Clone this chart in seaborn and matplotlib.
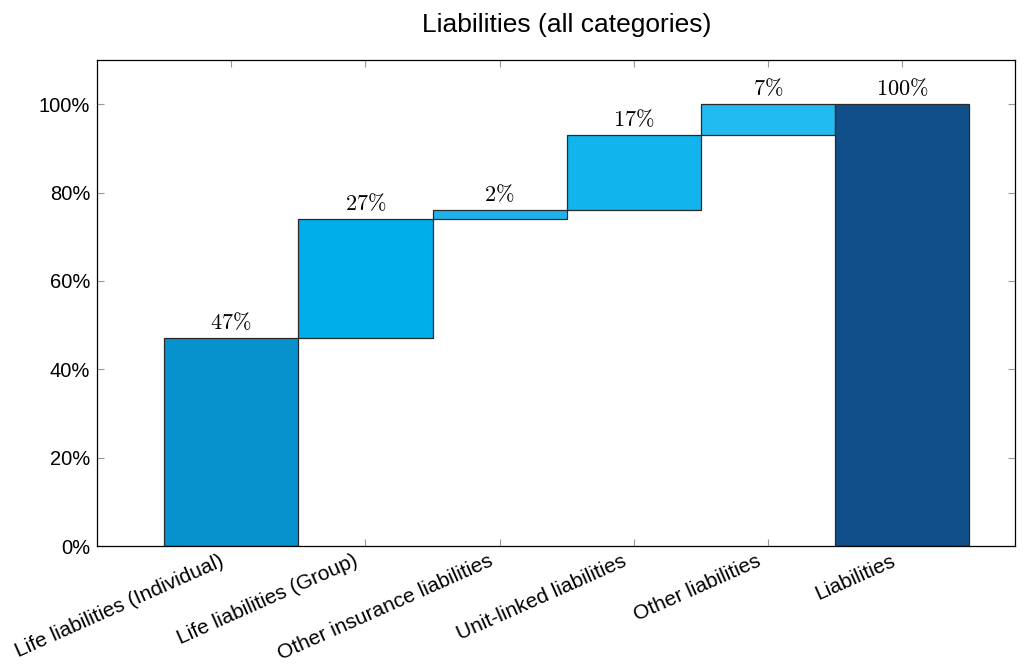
import matplotlib
matplotlib.use("Agg")
import matplotlib.pyplot as plt
import matplotlib.transforms as mtransforms
import seaborn as sns
import numpy as np
import pandas as pd

categories = ["Life liabilities (Individual)", "Life liabilities (Group)",
              "Other insurance liabilities", "Unit-linked liabilities",
              "Other liabilities", "Liabilities"]
values = [47, 27, 2, 17, 7, 100]
labels = ["47%", "27%", "2%", "17%", "7%", "100%"]
colors = ["#0792CE", "#00AEEA", "#1EB4EB", "#11B4EC", "#22BBF0", "#114F8A"]
yticks = [0, 20, 40, 60, 80, 100]
ytick_labels = ["0%", "20%", "40%", "60%", "80%", "100%"]
title = "Liabilities (all categories)"

# waterfall bases: cumulative for the steps, zero for the total
bases = list(np.concatenate([[0], np.cumsum(values[:-2])])) + [0]

sns.set_style("white")
plt.rcParams["font.family"] = ["Liberation Sans", "DejaVu Sans"]
plt.rcParams["mathtext.fontset"] = "cm"
for k in ["text.color", "axes.labelcolor", "xtick.color", "ytick.color"]:
    plt.rcParams[k] = "black"

fig = plt.figure(figsize=(10.27, 6.67), dpi=100)
ax = fig.add_axes([97/1027, 1-546/667, (1015-97)/1027, (546-60)/667])

df = pd.DataFrame({"cat": categories, "val": values, "base": bases})
for i, row in df.iterrows():
    sns.barplot(data=df.iloc[[i]], x="cat", y="val", order=categories,
                color=colors[i], bottom=row["base"], width=1.0,
                edgecolor="#2a2a2a", linewidth=0.9, ax=ax, saturation=1)

for i, (v, b, lab) in enumerate(zip(values, bases, labels)):
    ax.annotate("$" + lab.replace("%", r"\%") + "$", (i, v + b),
                xytext=(0, 3), textcoords="offset points",
                ha="center", va="bottom", fontsize=16)

ax.set_xlim(-1.0, 5.84)
ax.set_ylim(0, 110)
ax.set_yticks(yticks)
ax.set_yticklabels(ytick_labels, fontsize=14.5)
ax.set_xticks(range(len(categories)))
ax.set_xticklabels(categories, rotation=24, ha="right", rotation_mode="anchor",
                   fontsize=15)
ax.tick_params(axis="both", direction="in", length=5, width=0.8, color="#999999",
               labelcolor="black",
               top=True, right=True, bottom=True, left=True, pad=5)
ax.tick_params(axis="x", pad=4)
shift = mtransforms.ScaledTranslation(-12/100, 0, fig.dpi_scale_trans)
for t in ax.get_xticklabels():
    t.set_transform(t.get_transform() + shift)
for s in ax.spines.values():
    s.set_visible(True)
    s.set_color("black")
    s.set_linewidth(0.9)
ax.set_xlabel("")
ax.set_ylabel("")
fig.text(567/1027, 1-32/667, title, fontsize=19, ha="center", va="baseline",
         color="black")

fig.savefig("out.png", dpi=100)
